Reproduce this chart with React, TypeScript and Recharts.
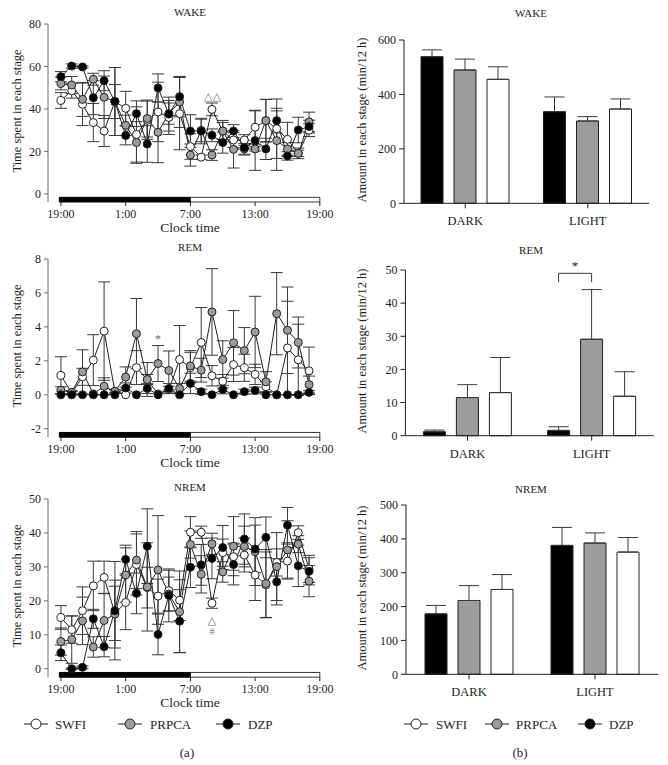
import React from "react"
import {
  LineChart, Line, BarChart, Bar, XAxis, YAxis, ErrorBar,
  ReferenceArea, ReferenceDot,
} from "recharts"

const hours = [0, 1, 2, 3, 4, 5, 6, 7, 8, 9, 10, 11, 12, 13, 14, 15, 16, 17, 18, 19, 20, 21, 22, 23]
const clockTicks = [0, 6, 12, 18, 24]
const clockLabels = ["19:00", "1:00", "7:00", "13:00", "19:00"]
const periods = ["DARK", "LIGHT"]

// hourly time spent (min) per stage
const wakeSwfi = [44.0, 48.6, 42.2, 33.6, 29.6, 43.5, 40.3, 28.0, 34.7, 38.6, 36.0, 37.8, 22.3, 17.3, 39.8, 29.6, 25.4, 25.4, 31.4, 34.5, 30.7, 25.7, 19.1, 30.0]
const wakeSwfiErr = [3.7, 3.5, 10, 9, 7.3, 8, 8, 13, 9, 14, 8, 17, 6, 1, 3, 4, 3.5, 2.5, 8, 10, 14, 8, 1.5, 3]
const wakePrpca = [52.0, 51.3, 44.5, 54.0, 45.5, 43.5, 32.3, 24.2, 35.5, 29.0, 37.8, 43.3, 18.3, 29.9, 18.3, 29.6, 21.0, 21.2, 21.2, 34.5, 25.1, 21.2, 19.1, 33.9]
const wakePrpcaErr = [3, 4, 8, 2.8, 10, 16, 4.8, 9.8, 8.7, 14.3, 5, 12, 5.2, 5.3, 2.5, 5, 8.8, 2.5, 1, 10, 14, 3, 2.5, 4.6]
const wakeDzp = [55.2, 60.2, 59.8, 45.3, 53.3, 43.5, 27.5, 37.8, 23.5, 49.9, 37.6, 45.8, 29.6, 29.6, 27.6, 24.2, 29.6, 21.8, 25.1, 21.2, 34.5, 17.9, 30.1, 31.7]
const wakeDzpErr = [2.4, 1, 0.5, 8, 4.7, 16, 4.4, 6, 8.6, 6.6, 8, 9.5, 7.7, 6, 3, 5, 3, 3.5, 14, 5, 5.8, 2, 6, 3]

const remSwfi = [1.14, 0.1, 1.06, 2.04, 3.75, 0.2, 0.0, 1.6, 0.9, 0.05, 0.3, 2.08, 1.6, 3.08, 1.12, 0.8, 1.78, 1.59, 1.2, 0.47, 0.0, 2.76, 2.06, 1.41]
const remSwfiErr = [1.1, 0.1, 0.5, 1.5, 2.9, 0.1, 0, 1.0, 0.3, 0, 0.2, 2.0, 0.9, 2.06, 0.6, 0.4, 1.0, 0.8, 0.6, 0.3, 0, 2.75, 2.1, 1.4]
const remPrpca = [0.27, 0.14, 1.35, 0.05, 0.5, 0.2, 1.04, 3.6, 0.9, 1.84, 1.43, 0.37, 1.7, 1.45, 4.88, 2.08, 3.06, 2.6, 3.7, 0.76, 4.78, 3.8, 3.08, 0.6]
const remPrpcaErr = [0.2, 0.1, 1.3, 0, 0.5, 0.1, 0.6, 2.07, 1.0, 1.06, 1.15, 0.3, 0.9, 0.7, 2.55, 1.1, 1.9, 1.36, 2.1, 0.6, 2.42, 2.55, 1.5, 0.5]
const remDzp = [0, 0, 0, 0, 0, 0, 0.4, 0, 0.37, 0, 0.37, 0, 0.67, 0.18, 0, 0.31, 0, 0.18, 0.25, 0, 0, 0, 0, 0.14]
const remDzpErr = [0, 0, 0, 0, 0, 0, 0.3, 0, 0.3, 0, 0.3, 0, 0.6, 0.15, 0, 0.25, 0, 0.15, 0.2, 0, 0, 0, 0, 0.1]

const nremSwfi = [15.1, 11.5, 17.1, 24.4, 26.9, 16.3, 19.5, 30.7, 23.9, 21.4, 23.0, 20.2, 40.2, 40.2, 19.3, 34.2, 33.0, 33.5, 27.6, 24.7, 31.3, 31.7, 40.1, 29.4]
const nremSwfiErr = [3.5, 4, 7, 7.3, 4.8, 8, 8, 9, 6, 5, 6, 6, 4.6, 1.8, 1.5, 4, 4, 5, 7.5, 9.7, 4, 5, 2, 4]
const nremPrpca = [8.0, 8.6, 14.1, 6.4, 14.2, 16.1, 27.6, 32.0, 24.1, 29.1, 22.0, 16.8, 36.6, 27.8, 36.8, 28.5, 36.1, 36.0, 34.5, 25.1, 30.1, 35.0, 36.7, 25.8]
const nremPrpcaErr = [4, 7, 7, 3, 8, 10, 8, 8.4, 13, 16, 5, 12, 4, 5.5, 3.1, 3, 8.7, 6, 10, 10, 10, 8.6, 2.5, 4.6]
const nremDzp = [4.7, 0, 0.4, 14.7, 6.5, 17.1, 32.2, 22.2, 36.1, 10.1, 21.6, 14.0, 29.9, 30.6, 32.5, 35.7, 30.7, 38.2, 35.3, 38.7, 25.6, 42.3, 30.3, 28.7]
const nremDzpErr = [2.3, 0.2, 0.4, 2.8, 3, 14.5, 4.2, 6, 11, 6, 7.8, 9.3, 6, 6, 6, 6.5, 6, 7.4, 7, 6, 6.8, 5.2, 6.1, 4]

// amount per 12 h (DARK, LIGHT)
const wakeAmtDzp = [538.8, 336.7]
const wakeAmtDzpErr = [25, 54]
const wakeAmtPrpca = [489.8, 302.4]
const wakeAmtPrpcaErr = [40, 16]
const wakeAmtSwfi = [455.5, 346.5]
const wakeAmtSwfiErr = [46, 37]
const remAmtDzp = [1.2, 1.6]
const remAmtDzpErr = [0.5, 1.1]
const remAmtPrpca = [11.5, 29.1]
const remAmtPrpcaErr = [3.9, 15]
const remAmtSwfi = [13, 11.9]
const remAmtSwfiErr = [10.6, 7.4]
const nremAmtDzp = [178.5, 380.7]
const nremAmtDzpErr = [25, 53]
const nremAmtPrpca = [218, 387.6]
const nremAmtPrpcaErr = [44, 30]
const nremAmtSwfi = [250.5, 361]
const nremAmtSwfiErr = [44, 43]

const INK = "#231f20"
const GRAY = "#9c9c9e"
const FONT = '"Liberation Serif", "DejaVu Serif", serif'

function Txt({ x, y, size = 12.5, rot = false, children }: any) {
  return (
    <div style={{
      position: "absolute", left: x, top: y, fontSize: size, color: INK,
      whiteSpace: "nowrap", lineHeight: 1,
      transform: `translate(-50%,-50%)${rot ? " rotate(-90deg)" : ""}`,
    }}>{children}</div>
  )
}

function HourlyPanel({ top, title, s, se, p, pe, d, de, yDomain, yTicks, barLow, barHigh, mt, pb, notes }: any) {
  const data = hours.map((h, i) => ({
    h, swfi: s[i], swfiErr: se[i], prpca: p[i], prpcaErr: pe[i], dzp: d[i], dzpErr: de[i],
  }))
  const H = 240
  const dot = (fill: string) => ({ r: 4, fill, stroke: INK, strokeWidth: 1 })
  return (
    <div style={{ position: "absolute", left: 0, top, width: 334, height: H }}>
      <LineChart width={334} height={H} data={data}
        margin={{ top: mt, right: 12, bottom: H - pb - 20, left: 12 }}>
        <XAxis dataKey="h" type="number" domain={[-1.2, 24.2]} ticks={clockTicks}
          allowDataOverflow interval={0} axisLine={false} tickSize={4} tickMargin={3} height={20}
          tickLine={{ stroke: INK }}
          tick={{ fill: INK, fontSize: 12, fontFamily: FONT }}
          tickFormatter={(v: number) => clockLabels[clockTicks.indexOf(v)]} />
        <YAxis domain={yDomain} ticks={yTicks} width={36} tickSize={4} tickMargin={3}
          allowDataOverflow interval={0}
          axisLine={{ stroke: "#6d6e70" }} tickLine={{ stroke: "#6d6e70" }}
          tick={{ fill: INK, fontSize: 12, fontFamily: FONT }} />
        <ReferenceArea x1={-0.15} x2={12} y1={barLow} y2={barHigh} fill="#000" fillOpacity={1} stroke="#000" />
        <ReferenceArea x1={12} x2={24} y1={barLow} y2={barHigh} fill="#fff" fillOpacity={1} stroke="#000" strokeWidth={0.8} />
        <Line dataKey="swfi" stroke={INK} strokeWidth={1} dot={dot("#fff")} isAnimationActive={false}>
          <ErrorBar dataKey="swfiErr" width={6} stroke="#3a3a3a" strokeWidth={1} direction="y" />
        </Line>
        <Line dataKey="prpca" stroke={INK} strokeWidth={1} dot={dot(GRAY)} isAnimationActive={false}>
          <ErrorBar dataKey="prpcaErr" width={6} stroke="#3a3a3a" strokeWidth={1} direction="y" />
        </Line>
        <Line dataKey="dzp" stroke={INK} strokeWidth={1} dot={dot("#000")} isAnimationActive={false}>
          <ErrorBar dataKey="dzpErr" width={6} stroke="#3a3a3a" strokeWidth={1} direction="y" />
        </Line>
        {notes.map((n: any, i: number) => (
          <ReferenceDot key={i} x={n.x} y={n.y} r={0} fill="none" stroke="none"
            label={{ value: n.text, position: "center", fill: "#6d6e70", fontSize: n.size || 11, fontFamily: FONT }} />
        ))}
      </LineChart>
      <Txt x={190} y={mt - 12} size={11}>{title}</Txt>
      <Txt x={17} y={(mt + pb) / 2 - 2} rot>Time spent in each stage</Txt>
      <Txt x={190} y={pb + 26} size={13.5}>Clock time</Txt>
    </div>
  )
}

function AmountPanel({ top, title, d, de, p, pe, s, se, yMax, yTicks, mt, pb, left, mr, titleY, bracket }: any) {
  const data = periods.map((period, i) => ({
    period,
    dzp: d[i], dzpErr: [0, de[i]],
    prpca: p[i], prpcaErr: [0, pe[i]],
    swfi: s[i], swfiErr: [0, se[i]],
  }))
  const H = 240
  const barSize = 22
  const barGap = 11
  const drawBracket = (props: any) => {
    if (!bracket) return null
    const vb = props.viewBox || props
    const idx = props.index
    if (idx !== bracket.index && props.value !== p[bracket.index]) return null
    const unit = vb.height / p[bracket.index]
    const base = vb.y + vb.height
    const yTop = base - bracket.top * unit
    const yEnd = base - bracket.end * unit
    const xR = vb.x + vb.width / 2
    const xL = xR - barSize - barGap
    return (
      <g>
        <path d={`M${xL},${yEnd}V${yTop}H${xR}V${yEnd}`} fill="none" stroke="#3a3a3a" strokeWidth={1} />
        <text x={(xL + xR) / 2} y={yTop - 3} textAnchor="middle" fontSize={13} fill={INK} fontFamily={FONT}>*</text>
      </g>
    )
  }
  return (
    <div style={{ position: "absolute", left: 334, top, width: 334, height: H }}>
      <BarChart width={334} height={H} data={data} barSize={barSize} barGap={barGap}
        margin={{ top: mt, right: mr, bottom: H - pb - 24, left: left - 40 }}>
        <XAxis dataKey="period" height={24} tickSize={5} tickMargin={8}
          axisLine={{ stroke: INK }} tickLine={{ stroke: INK }}
          tick={{ fill: INK, fontSize: 12.5, fontFamily: FONT }} />
        <YAxis domain={[0, yMax]} ticks={yTicks} width={40} tickSize={5} tickMargin={3} interval={0}
          axisLine={{ stroke: INK }} tickLine={{ stroke: INK }}
          tick={{ fill: INK, fontSize: 12, fontFamily: FONT }} />
        <Bar dataKey="dzp" fill="#000" stroke={INK} strokeWidth={1} isAnimationActive={false}>
          <ErrorBar dataKey="dzpErr" width={10} stroke="#3a3a3a" strokeWidth={1} direction="y" />
        </Bar>
        <Bar dataKey="prpca" fill={GRAY} stroke={INK} strokeWidth={1} isAnimationActive={false}
          label={bracket ? drawBracket : undefined}>
          <ErrorBar dataKey="prpcaErr" width={10} stroke="#3a3a3a" strokeWidth={1} direction="y" />
        </Bar>
        <Bar dataKey="swfi" fill="#fff" stroke={INK} strokeWidth={1} isAnimationActive={false}>
          <ErrorBar dataKey="swfiErr" width={10} stroke="#3a3a3a" strokeWidth={1} direction="y" />
        </Bar>
      </BarChart>
      <Txt x={197} y={titleY} size={11}>{title}</Txt>
      <Txt x={28} y={(mt + pb) / 2 - 2} size={12.5} rot>Amount in each stage (min/12 h)</Txt>
    </div>
  )
}

function Legend({ items }: any) {
  return (
    <>
      {items.map((it: any) => (
        <React.Fragment key={it.label}>
          <svg style={{ position: "absolute", left: it.cx - 12, top: 718 }} width={24} height={12}>
            <line x1={0} y1={6} x2={24} y2={6} stroke={INK} strokeWidth={1} />
            <circle cx={12} cy={6} r={5} fill={it.fill} stroke={INK} strokeWidth={1} />
          </svg>
          <div style={{ position: "absolute", left: it.tx, top: 724, transform: "translateY(-50%)", fontSize: 13, color: INK, lineHeight: 1 }}>
            {it.label}
          </div>
        </React.Fragment>
      ))}
    </>
  )
}

export default function App() {
  return (
    <div style={{ position: "absolute", left: 0, top: 0, width: 668, height: 765, background: "#fff", fontFamily: FONT, overflow: "hidden" }}>
      <HourlyPanel top={0} title="WAKE" s={wakeSwfi} se={wakeSwfiErr} p={wakePrpca} pe={wakePrpcaErr}
        d={wakeDzp} de={wakeDzpErr} yDomain={[-3.8, 80]} yTicks={[0, 20, 40, 60, 80]}
        barLow={-3.8} barHigh={-1.6} mt={24} pb={202}
        notes={[{ x: 14.05, y: 46, text: "△△" }]} />
      <HourlyPanel top={240} title="REM" s={remSwfi} se={remSwfiErr} p={remPrpca} pe={remPrpcaErr}
        d={remDzp} de={remDzpErr} yDomain={[-2.5, 8]} yTicks={[-2, 0, 2, 4, 6, 8]}
        barLow={-2.5} barHigh={-2.22} mt={19} pb={197.2}
        notes={[{ x: 9, y: 3.3, text: "*", size: 12 }]} />
      <HourlyPanel top={480} title="NREM" s={nremSwfi} se={nremSwfiErr} p={nremPrpca} pe={nremPrpcaErr}
        d={nremDzp} de={nremDzpErr} yDomain={[-2.5, 50]} yTicks={[0, 10, 20, 30, 40, 50]}
        barLow={-2.5} barHigh={-1.1} mt={19} pb={197.2}
        notes={[{ x: 14, y: 14.3, text: "△" }, { x: 14, y: 11.0, text: "#", size: 10 }]} />

      <AmountPanel top={0} title="WAKE" d={wakeAmtDzp} de={wakeAmtDzpErr} p={wakeAmtPrpca} pe={wakeAmtPrpcaErr}
        s={wakeAmtSwfi} se={wakeAmtSwfiErr} yMax={600} yTicks={[0, 200, 400, 600]}
        mt={40} pb={203.3} left={70} mr={19} titleY={13} />
      <AmountPanel top={240} title="REM" d={remAmtDzp} de={remAmtDzpErr} p={remAmtPrpca} pe={remAmtPrpcaErr}
        s={remAmtSwfi} se={remAmtSwfiErr} yMax={50} yTicks={[0, 10, 20, 30, 40, 50]}
        mt={30} pb={195.7} left={71.4} mr={14.2} titleY={10}
        bracket={{ index: 1, top: 49, end: 46.3 }} />
      <AmountPanel top={480} title="NREM" d={nremAmtDzp} de={nremAmtDzpErr} p={nremAmtPrpca} pe={nremAmtPrpcaErr}
        s={nremAmtSwfi} se={nremAmtSwfiErr} yMax={500} yTicks={[0, 100, 200, 300, 400, 500]}
        mt={25} pb={194.3} left={72} mr={10} titleY={9} />

      <Legend items={[
        { label: "SWFI", fill: "#fff", cx: 36, tx: 55 },
        { label: "PRPCA", fill: GRAY, cx: 130, tx: 150 },
        { label: "DZP", fill: "#000", cx: 228, tx: 248 },
      ]} />
      <Legend items={[
        { label: "SWFI", fill: "#fff", cx: 416, tx: 436 },
        { label: "PRPCA", fill: GRAY, cx: 497, tx: 516 },
        { label: "DZP", fill: "#000", cx: 590, tx: 609 },
      ]} />
      <Txt x={187} y={752} size={13}>(a)</Txt>
      <Txt x={520} y={752} size={13}>(b)</Txt>
    </div>
  )
}
